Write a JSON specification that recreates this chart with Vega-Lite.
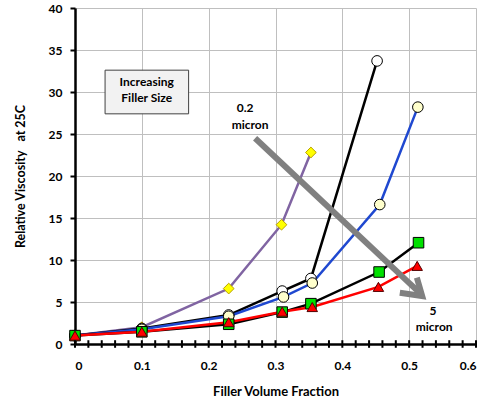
{
  "$schema": "https://vega.github.io/schema/vega-lite/v6.json",
  "width": 401,
  "height": 336,
  "autosize": {"type": "none"},
  "padding": {"left": 75, "top": 8, "right": 11, "bottom": 56},
  "background": "white",
  "config": {
    "view": {"stroke": null},
    "font": "Lato",
    "axis": {"labelFont": "Lato", "titleFont": "Lato", "labelFontWeight": "bold", "titleFontWeight": "bold", "labelColor": "#000", "titleColor": "#000"}
  },
  "datasets": {
    "series": [
      {"s": "a", "x": 0, "y": 1.0, "o": 0},
      {"s": "a", "x": 0.1, "y": 2.0, "o": 1},
      {"s": "a", "x": 0.23, "y": 6.6, "o": 2},
      {"s": "a", "x": 0.309, "y": 14.2, "o": 3},
      {"s": "a", "x": 0.353, "y": 22.8, "o": 4},
      {"s": "b", "x": 0, "y": 1.0, "o": 0},
      {"s": "b", "x": 0.1, "y": 1.85, "o": 1},
      {"s": "b", "x": 0.23, "y": 3.45, "o": 2},
      {"s": "b", "x": 0.31, "y": 6.3, "o": 3},
      {"s": "b", "x": 0.353, "y": 7.8, "o": 4},
      {"s": "b", "x": 0.452, "y": 33.7, "o": 5},
      {"s": "c", "x": 0, "y": 1.0, "o": 0},
      {"s": "c", "x": 0.1, "y": 1.75, "o": 1},
      {"s": "c", "x": 0.23, "y": 3.3, "o": 2},
      {"s": "c", "x": 0.312, "y": 5.6, "o": 3},
      {"s": "c", "x": 0.355, "y": 7.26, "o": 4},
      {"s": "c", "x": 0.456, "y": 16.6, "o": 5},
      {"s": "c", "x": 0.513, "y": 28.2, "o": 6},
      {"s": "d", "x": 0, "y": 1.0, "o": 0},
      {"s": "d", "x": 0.1, "y": 1.45, "o": 1},
      {"s": "d", "x": 0.23, "y": 2.35, "o": 2},
      {"s": "d", "x": 0.31, "y": 3.8, "o": 3},
      {"s": "d", "x": 0.353, "y": 4.8, "o": 4},
      {"s": "d", "x": 0.455, "y": 8.57, "o": 5},
      {"s": "d", "x": 0.514, "y": 12.06, "o": 6},
      {"s": "e", "x": 0, "y": 1.0, "o": 0},
      {"s": "e", "x": 0.1, "y": 1.46, "o": 1},
      {"s": "e", "x": 0.23, "y": 2.6, "o": 2},
      {"s": "e", "x": 0.31, "y": 3.85, "o": 3},
      {"s": "e", "x": 0.355, "y": 4.4, "o": 4},
      {"s": "e", "x": 0.454, "y": 6.8, "o": 5},
      {"s": "e", "x": 0.512, "y": 9.3, "o": 6}
    ],
    "shaft": [
      {"x": 0.2695, "y": 24.5, "o": 0},
      {"x": 0.517, "y": 6.0, "o": 1}
    ],
    "head": [
      {"x": 0.5115, "y": 7.9, "o": 0},
      {"x": 0.5195, "y": 5.71, "o": 1},
      {"x": 0.486, "y": 6.1, "o": 2}
    ],
    "notes": [
      {"x": 0.1073, "y": 31.2, "t": "Increasing"},
      {"x": 0.1073, "y": 29.3, "t": "Filler Size"},
      {"x": 0.2545, "y": 28.1, "t": "0.2"},
      {"x": 0.262, "y": 26.07, "t": "micron"},
      {"x": 0.5355, "y": 3.93, "t": "5"},
      {"x": 0.5374, "y": 2.0, "t": "micron"}
    ],
    "box": [
      {"x": 0.045, "x2": 0.17, "y": 27.4, "y2": 32.6}
    ],
    "ticks": [
      {"x": 0}, {"x": 0.02}, {"x": 0.04}, {"x": 0.06}, {"x": 0.08},
      {"x": 0.1}, {"x": 0.12}, {"x": 0.14}, {"x": 0.16}, {"x": 0.18},
      {"x": 0.2}, {"x": 0.22}, {"x": 0.24}, {"x": 0.26}, {"x": 0.28},
      {"x": 0.3}, {"x": 0.32}, {"x": 0.34}, {"x": 0.36}, {"x": 0.38},
      {"x": 0.4}, {"x": 0.42}, {"x": 0.44}, {"x": 0.46}, {"x": 0.48},
      {"x": 0.5}, {"x": 0.52}, {"x": 0.54}, {"x": 0.56}, {"x": 0.58},
      {"x": 0.6}
    ]
  },
  "layer": [
    {
      "data": {"name": "box"},
      "mark": {"type": "rect", "fill": "#F2F2F2", "stroke": "#404040", "strokeWidth": 1},
      "encoding": {
        "x": {"field": "x", "type": "quantitative", "scale": {"domain": [0, 0.6]},
          "axis": {"values": [0, 0.1, 0.2, 0.3, 0.4, 0.5, 0.6], "format": "~g", "ticks": false, "grid": true, "gridColor": "#BFBFBF", "gridWidth": 1,
            "domainColor": "#000", "domainWidth": 2.5, "labelFontSize": 12, "labelPadding": 16,
            "title": "Filler Volume Fraction", "titleFontSize": 13, "titlePadding": 14}},
        "x2": {"field": "x2"},
        "y": {"field": "y", "type": "quantitative", "scale": {"domain": [0, 40]},
          "axis": {"values": [0, 5, 10, 15, 20, 25, 30, 35, 40], "grid": true, "gridColor": "#BFBFBF", "gridWidth": 1,
            "domainColor": "#000", "domainWidth": 2.5, "tickColor": "#000", "tickWidth": 2, "tickSize": 5,
            "labelFontSize": 12, "labelPadding": 8,
            "title": "Relative Viscosity\u00a0\u00a0\u00a0at 25C", "titleFontSize": 12.5, "titlePadding": 21}},
        "y2": {"field": "y2"}
      }
    },
    {
      "data": {"name": "notes"},
      "mark": {"type": "text", "fontWeight": "bold", "fontSize": 12, "font": "Lato", "align": "center", "baseline": "middle", "color": "#000"},
      "encoding": {
        "x": {"field": "x", "type": "quantitative"},
        "y": {"field": "y", "type": "quantitative"},
        "text": {"field": "t"}
      }
    },
    {
      "data": {"name": "series"},
      "mark": {"type": "line", "strokeWidth": 2.5},
      "encoding": {
        "x": {"field": "x", "type": "quantitative"},
        "y": {"field": "y", "type": "quantitative"},
        "order": {"field": "o"},
        "detail": {"field": "s"},
        "color": {"field": "s", "type": "nominal", "legend": null,
          "scale": {"domain": ["a", "b", "c", "d", "e"], "range": ["#8064A2", "#000000", "#1F48D0", "#000000", "#FF0000"]}}
      }
    },
    {
      "data": {"name": "shaft"},
      "mark": {"type": "line", "stroke": "#808080", "strokeWidth": 6},
      "encoding": {
        "x": {"field": "x", "type": "quantitative"},
        "y": {"field": "y", "type": "quantitative"},
        "order": {"field": "o"}
      }
    },
    {
      "data": {"name": "head"},
      "mark": {"type": "line", "stroke": "#808080", "strokeWidth": 6, "strokeJoin": "miter"},
      "encoding": {
        "x": {"field": "x", "type": "quantitative"},
        "y": {"field": "y", "type": "quantitative"},
        "order": {"field": "o"}
      }
    },
    {
      "data": {"name": "series"},
      "mark": {"type": "point", "filled": true, "strokeWidth": 1, "opacity": 1},
      "encoding": {
        "x": {"field": "x", "type": "quantitative"},
        "y": {"field": "y", "type": "quantitative"},
        "shape": {"field": "s", "type": "nominal", "legend": null,
          "scale": {"domain": ["a", "b", "c", "d", "e"], "range": ["diamond", "circle", "circle", "square", "triangle-up"]}},
        "fill": {"field": "s", "type": "nominal", "legend": null,
          "scale": {"domain": ["a", "b", "c", "d", "e"], "range": ["#FFFF00", "#FFFFFF", "#FFFFCC", "#00E000", "#FF0000"]}},
        "stroke": {"field": "s", "type": "nominal", "legend": null,
          "scale": {"domain": ["a", "b", "c", "d", "e"], "range": ["#B8A000", "#000000", "#000000", "#000000", "#500000"]}},
        "size": {"field": "s", "type": "ordinal", "legend": null,
          "scale": {"domain": ["a", "b", "c", "d", "e"], "range": [115, 110, 110, 55, 75]}}
      }
    },
    {
      "data": {"name": "ticks"},
      "mark": {"type": "rule", "color": "#000", "strokeWidth": 2},
      "encoding": {
        "x": {"field": "x", "type": "quantitative"},
        "y": {"datum": -0.45},
        "y2": {"datum": 0.45}
      }
    }
  ]
}
